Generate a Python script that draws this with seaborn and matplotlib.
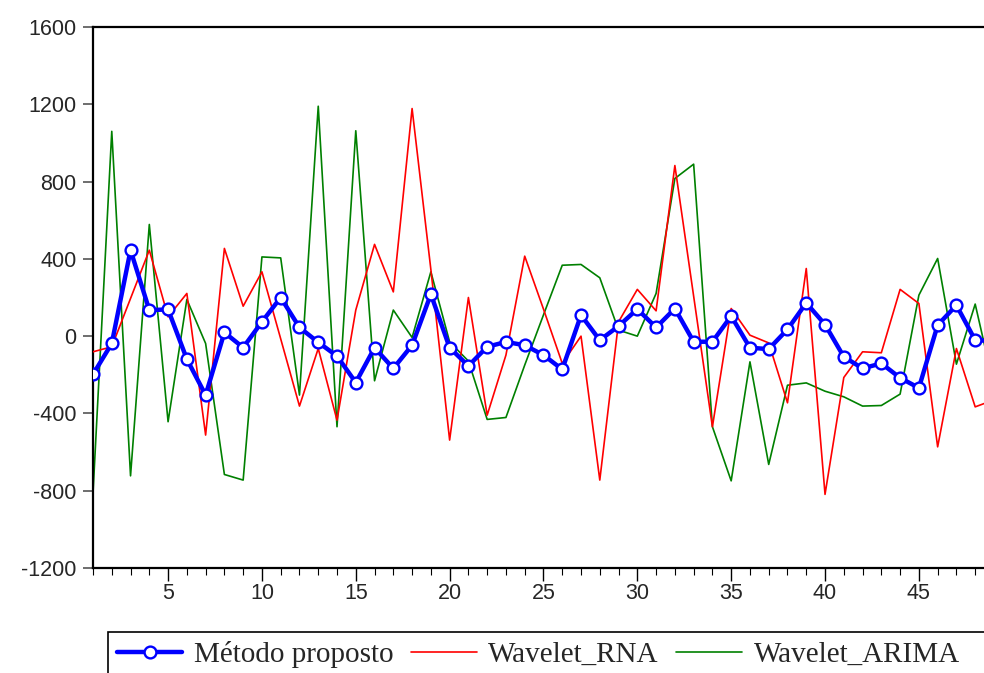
import matplotlib
matplotlib.use("Agg")
import matplotlib.pyplot as plt
from matplotlib.ticker import MultipleLocator, FixedLocator
from matplotlib.patches import Rectangle
import seaborn as sns
import pandas as pd

periods = list(range(1, 50))
metodo = [-198, -38, 445, 135, 138, -119, -305, 19, -59, 74,
          200, 45, -32, -103, -240, -60, -167, -47, 217, -60,
          -154, -55, -30, -47, -98, -172, 109, -21, 52, 140,
          45, 143, -29, -29, 104, -60, -67, 35, 172, 60,
          -107, -167, -141, -216, -268, 57, 160, -21, -25]
rna = [-81, -55, 195, 445, 100, 221, -512, 454, 155, 333,
       -14, -362, -64, -435, 135, 475, 229, 1178, 345, -538,
       200, -409, -98, 414, 140, -141, 0, -745, 74, 242,
       131, 883, 207, -469, 143, 5, -35, -345, 350, -819,
       -214, -81, -86, 242, 169, -573, -64, -366, -330]
arima = [-814, 1060, -723, 578, -443, 190, -38, -716, -745, 410,
         405, -305, 1190, -469, 1063, -231, 135, -7, 333, -30,
         -129, -431, -421, -150, 110, 367, 371, 302, 31, 0,
         221, 816, 890, -469, -749, -133, -664, -254, -242, -285,
         -314, -362, -359, -300, 212, 402, -145, 166, -260]
series_names = ["Método proposto", "Wavelet_RNA", "Wavelet_ARIMA"]
y_ticks = [-1200, -800, -400, 0, 400, 800, 1200, 1600]
x_ticks = [5, 10, 15, 20, 25, 30, 35, 40, 45]

df = pd.DataFrame({"t": periods, series_names[0]: metodo,
                   series_names[1]: rna, series_names[2]: arima})

sns.set_style("white")
plt.rcParams["font.family"] = ["Liberation Sans", "DejaVu Sans"]
plt.rcParams["axes.unicode_minus"] = False

fig = plt.figure(figsize=(9.84, 6.73), dpi=100)
W, H = 984, 673
x0, y_top, y_bot = 93, 27, 568
px_per_unit = 18.77
right_px = x0 + (50 - 1) * px_per_unit
ax = fig.add_axes([x0 / W, (H - y_bot) / H, (right_px - x0) / W, (y_bot - y_top) / H])

sns.lineplot(data=df, x="t", y=series_names[2], ax=ax, color="#008000",
             linewidth=1.2, label=series_names[2], zorder=2)
sns.lineplot(data=df, x="t", y=series_names[1], ax=ax, color="#ff0000",
             linewidth=1.2, label=series_names[1], zorder=3)
sns.lineplot(data=df, x="t", y=series_names[0], ax=ax, color="#0000ff",
             linewidth=3.2, marker="o", markersize=8.5, markerfacecolor="white",
             markeredgecolor="#0000ff", markeredgewidth=1.7,
             label=series_names[0], zorder=4)

ax.set_xlim(1, 50)
ax.set_ylim(-1200, 1600)
ax.set_xlabel("")
ax.set_ylabel("")
ax.yaxis.set_major_locator(FixedLocator(y_ticks))
ax.xaxis.set_major_locator(FixedLocator(x_ticks))
ax.xaxis.set_minor_locator(MultipleLocator(1))
for s in ["left", "top", "bottom", "right"]:
    ax.spines[s].set_color("black")
    ax.spines[s].set_linewidth(1.6)
ax.tick_params(axis="y", which="major", direction="out", length=7, width=1.2,
               color="#555555", labelsize=15.5, pad=5, left=True)
ax.tick_params(axis="x", which="major", direction="out", length=9, width=1.0,
               color="black", labelsize=15.5, pad=2, bottom=True)
ax.tick_params(axis="x", which="minor", direction="out", length=5, width=0.8,
               color="black", bottom=True)

ax.get_legend().remove()
handles, labels = ax.get_legend_handles_labels()
order = [labels.index(n) for n in series_names]
leg = fig.legend([handles[i] for i in order], [labels[i] for i in order],
                 loc="upper left", bbox_to_anchor=(108 / W, 1 - 632 / H),
                 ncol=3, frameon=False,
                 prop={"family": "Liberation Serif", "size": 21},
                 handlelength=2.25, handletextpad=0.4, columnspacing=0.6,
                 borderpad=0.3, borderaxespad=0)
box = Rectangle((108 / W, -0.02), 1.0, (H - 632) / H + 0.02,
                transform=fig.transFigure, fill=False, edgecolor="black",
                linewidth=1.2, zorder=1)
fig.add_artist(box)

fig.savefig("out.png", dpi=100)
